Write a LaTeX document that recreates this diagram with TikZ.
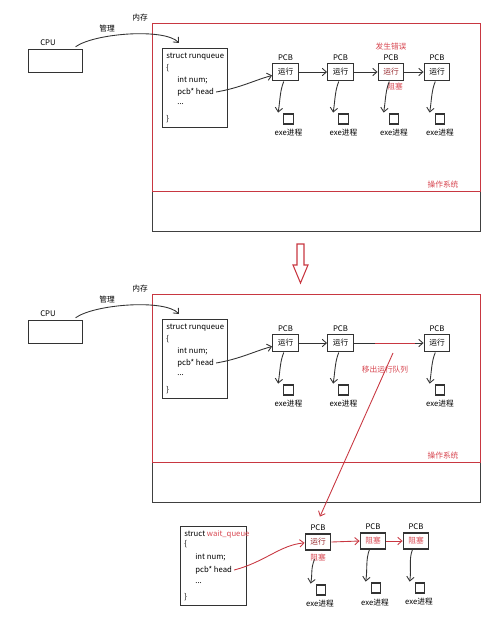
\documentclass[tikz,border=0pt]{standalone}
\usepackage{fontspec}
\setmainfont{Noto Sans CJK SC}
\usetikzlibrary{arrows.meta}
\definecolor{osred}{RGB}{200,55,65}
\definecolor{txtred}{RGB}{215,70,80}
\definecolor{mixred}{RGB}{150,40,45}
\tikzset{
  txt/.style={inner sep=0pt, font=\fontsize{4.4}{5.3}\selectfont},
  redtxt/.style={txt, text=txtred},
  box/.style={draw=black!80, line width=0.6pt, inner sep=0pt},
  pcbbox/.style={box, minimum width=14.7pt, minimum height=10.2pt, font=\fontsize{4.4}{5.3}\selectfont},
  sq/.style={box, minimum width=5.2pt, minimum height=5.7pt},
  arr/.style={draw=black!80, line width=0.5pt, -{Straight Barb[length=2.4pt,width=4.2pt]}},
  redarr/.style={draw=osred, line width=0.5pt, -{Straight Barb[length=2.4pt,width=4.2pt]}},
  frame/.style={draw=black!75, line width=0.7pt, inner sep=0pt},
  osframe/.style={draw=osred, line width=0.7pt, inner sep=0pt}
}
\newcommand\memsec[1]{%
  \node[frame, minimum width=186.5pt, minimum height=118.5pt] (#1mem) at (316.5,127.5) {};
  \node[osframe, minimum width=186.5pt, minimum height=95.8pt] (#1os) at (316.5,107.5) {};
  \node[redtxt] (#1osl) at (443,185) {操作系统};
  \node[box, minimum width=31.2pt, minimum height=13.6pt] (#1cpu) at (55.5,61) {};
  \node[txt] (#1cpul) at (48,43) {CPU};
  \node[txt] (#1meml) at (140,18) {内存};
  \node[txt] (#1mgrl) at (107,29) {管理};
  \coordinate (#1tip) at (179,43);
  \draw[arr] ([xshift=-4.5pt,yshift=1pt]#1cpu.north east) .. controls (95,33) and (165,28) .. (#1tip);
  \node[box, minimum width=37.4pt, minimum height=45.4pt] (#1st) at (195,88) {};
  \node[txt, anchor=west] (#1s1) at (166,57) {struct runqueue};
  \node[txt, anchor=west] (#1s2) at (166,68) {\{};
  \node[txt, anchor=west] (#1s3) at (177,80) {int num;};
  \node[txt, anchor=west] (#1head) at (177,92) {pcb* head};
  \node[txt, anchor=west] (#1s5) at (177,104) {...};
  \node[txt, anchor=west] (#1s6) at (166,119) {\}};
  \foreach \i/\x in {1/285.5,2/340.5,4/437}{
    \node[pcbbox] (#1p\i) at (\x,72) {运行};
    \node[txt] (#1pl\i) at (\x,58) {PCB};
    \node[sq] (#1q\i) at (\x+3,119) {};
    \node[txt] (#1e\i) at (\x+3,133) {exe进程};
    \draw[arr] ([xshift=-1pt]#1p\i.south) .. controls +(-4,10) and +(2,-12) .. ([xshift=-3pt,yshift=0.5pt]#1q\i.north west);
  }
  \draw[arr] ([xshift=1pt]#1head.east) .. controls (240,88) and (255,80) .. ([yshift=-2pt]#1p1.west);
  \draw[arr] (#1p1.east) -- (#1p2.west);
}
\begin{document}
\begin{tikzpicture}[x=0.02cm,y=-0.02cm]
\useasboundingbox (0,0) rectangle (500,628);
% ---------- top section ----------
\memsec{t}
\node[pcbbox, text=mixred] (tp3) at (391,72) {运行};
\node[txt] (tpl3) at (391,58) {PCB};
\node[sq] (tq3) at (394,119) {};
\node[txt] (te3) at (394,133) {exe进程};
\node[redtxt] (terr) at (391,47) {发生错误};
\node[redtxt] (tblk) at (395,87) {阻塞};
\draw[arr] (tp2.east) -- (tp3.west);
\draw[arr] (tp3.east) -- (tp4.west);
\draw[arr] ([xshift=-1pt]tp3.south) .. controls +(-4,10) and +(2,-12) .. ([xshift=-3pt,yshift=0.5pt]tq3.north west);
% ---------- big arrow ----------
\draw[draw=osred, line width=0.6pt] (297,244) -- (304,244) -- (304,265) -- (308,265) -- (300.5,283) -- (293,265) -- (297,265) -- cycle;
% ---------- middle section ----------
\begin{scope}[shift={(0,271)}]
\memsec{m}
\coordinate (mr1) at (375,72);
\coordinate (mr2) at (415,72);
\draw[draw=black!80, line width=0.5pt] (mp2.east) -- (mr1);
\draw[draw=osred, line width=0.5pt] (mr1) -- (mr2);
\draw[arr] (mr2) -- (mp4.west);
\node[redtxt] (mmove) at (385,99) {移出运行队列};
\coordinate (mstart) at (393,82);
\end{scope}
% ---------- bottom: wait queue ----------
\node[box, minimum width=38pt, minimum height=45.4pt] (bst) at (213.5,566) {};
\node[txt, anchor=west] (bs1) at (184,534) {struct \textcolor{txtred}{wait\_queue}};
\node[txt, anchor=west] (bs2) at (184,544) {\{};
\node[txt, anchor=west] (bs3) at (195,557) {int num;};
\node[txt, anchor=west] (bhead) at (195,570) {pcb* head};
\node[txt, anchor=west] (bs5) at (195,583) {...};
\node[txt, anchor=west] (bs6) at (184,597) {\}};
\node[pcbbox, minimum height=9.1pt, text=mixred] (bp1) at (318,542) {运行};
\node[pcbbox, minimum height=9.1pt, text=txtred] (bp2) at (373,541) {阻塞};
\node[pcbbox, minimum height=9.1pt, text=txtred] (bp3) at (416,541) {阻塞};
\node[redtxt] (bblk) at (318,558) {阻塞};
\node[txt] (bpl1) at (318,528) {PCB};
\node[txt] (bpl2) at (373,527) {PCB};
\node[txt] (bpl3) at (416,527) {PCB};
\node[sq] (bq1) at (321,590) {};
\node[sq] (bq2) at (376,588) {};
\node[sq] (bq3) at (420,588) {};
\node[txt] (be1) at (320,604) {exe进程};
\node[txt] (be2) at (375,603) {exe进程};
\node[txt] (be3) at (419,602) {exe进程};
\draw[arr] ([xshift=-2pt,yshift=-5pt]bp1.south) .. controls +(-4,10) and +(2,-10) .. ([xshift=-3pt,yshift=0.5pt]bq1.north west);
\draw[arr] ([xshift=-2pt]bp2.south) .. controls +(-4,10) and +(2,-12) .. ([xshift=-3pt,yshift=0.5pt]bq2.north west);
\draw[arr] ([xshift=-2pt]bp3.south) .. controls +(-4,10) and +(2,-12) .. ([xshift=-3pt,yshift=0.5pt]bq3.north west);
\draw[redarr] ([xshift=1pt]bhead.east) .. controls (265,562) and (280,545) .. ([yshift=-0.5pt]bp1.west);
\draw[redarr] (bp1.east) -- (bp2.west);
\draw[redarr] (bp2.east) -- (bp3.west);
\draw[redarr] (mstart) -- ([xshift=1.1pt,yshift=9.6pt]bp1.north);
\end{tikzpicture}
\end{document}
